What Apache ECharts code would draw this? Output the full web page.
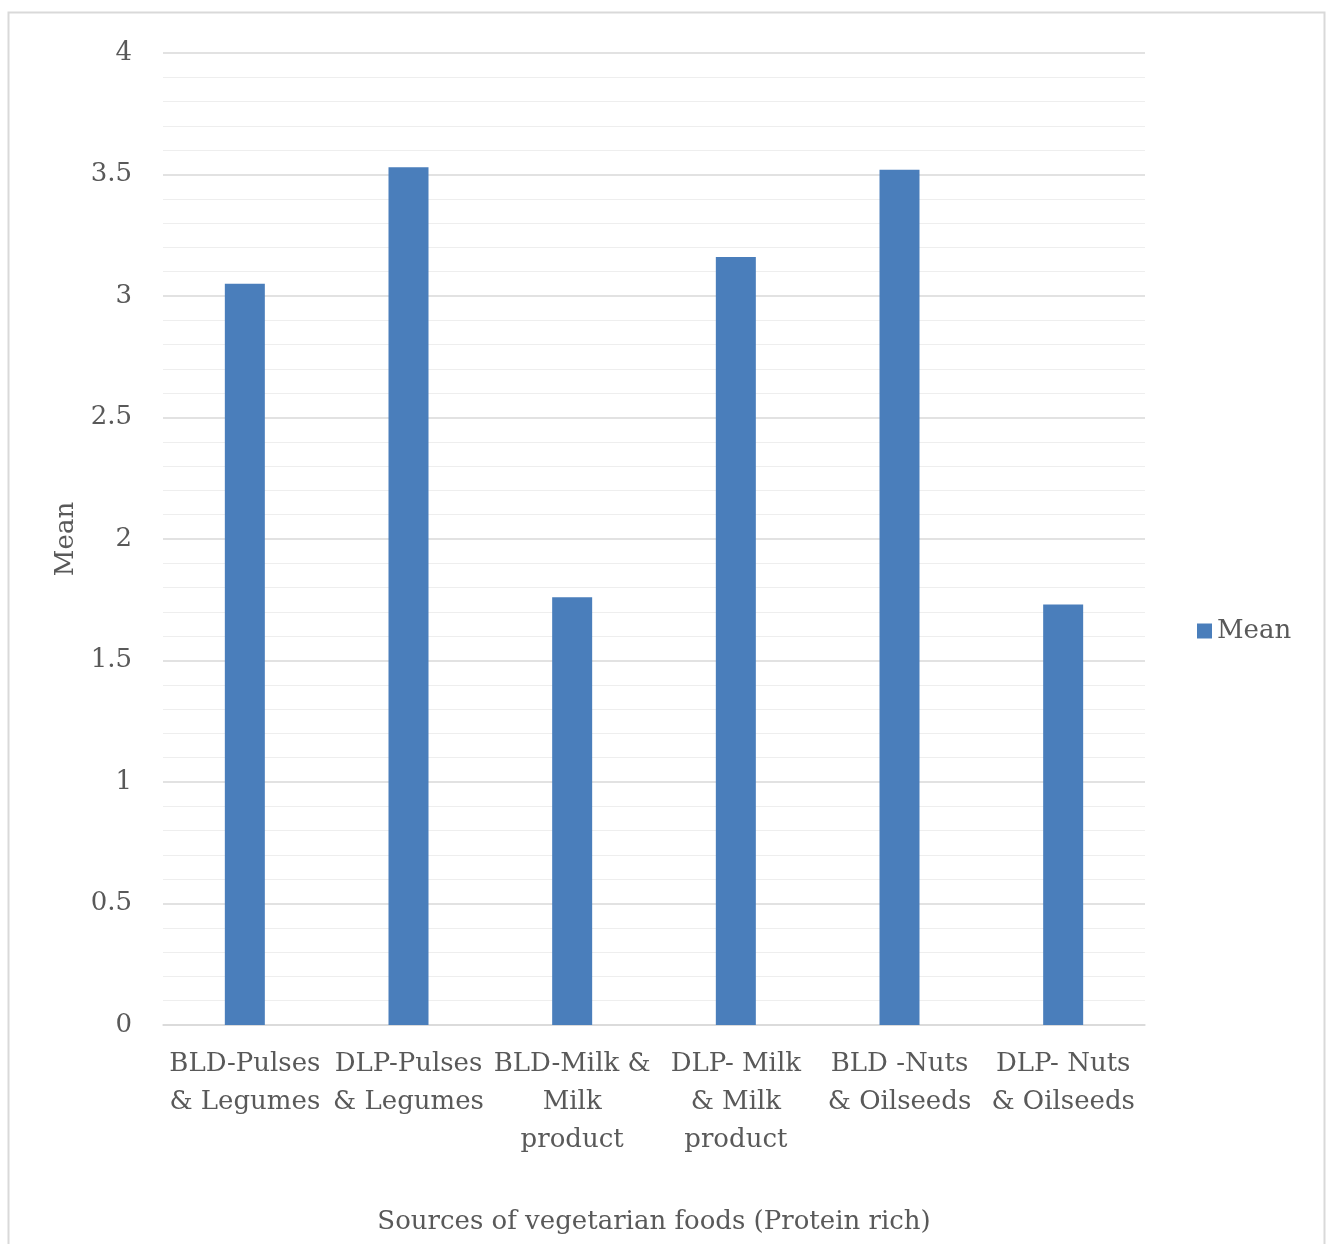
<!DOCTYPE html>
<html>
<head>
<meta charset="utf-8">
<script src="https://cdn.jsdelivr.net/npm/echarts@6/dist/echarts.min.js"></script>
<style>
html,body{margin:0;padding:0;background:#fff;}
#chart{width:1327px;height:1244px;}
</style>
</head>
<body>
<div id="chart"></div>
<script>
var categories = [
  "BLD-Pulses\n& Legumes",
  "DLP-Pulses\n& Legumes",
  "BLD-Milk &\nMilk\nproduct",
  "DLP- Milk\n& Milk\nproduct",
  "BLD -Nuts\n& Oilseeds",
  "DLP- Nuts\n& Oilseeds"
];
var meanValues = [3.05, 3.53, 1.76, 3.16, 3.52, 1.73];
var seriesName = "Mean";
var xAxisTitle = "Sources of vegetarian foods (Protein rich)";
var yAxisTitle = "Mean";

var FONT = "'DejaVu Serif',serif";
var TXT = '#595959';
var chart = echarts.init(document.getElementById('chart'));
chart.setOption({
  animation: false,
  backgroundColor: '#fff',
  graphic: [{
    type: 'rect', silent: true, z: -10,
    shape: {x: 8.5, y: 12.5, width: 1316, height: 1280},
    style: {fill: 'none', stroke: '#d9d9d9', lineWidth: 2}
  }],
  grid: {left: 163, right: 182, top: 53, bottom: 219, containLabel: false},
  legend: {
    data: [seriesName],
    orient: 'vertical',
    left: 1192, top: 613,
    itemWidth: 15, itemHeight: 15, itemGap: 6,
    icon: 'rect',
    textStyle: {fontFamily: FONT, fontSize: 26, color: TXT}
  },
  xAxis: {
    type: 'category',
    data: categories,
    name: xAxisTitle,
    nameLocation: 'middle',
    nameGap: 184,
    nameTextStyle: {fontFamily: FONT, fontSize: 26, color: TXT},
    axisLine: {show: true, lineStyle: {color: '#d9d9d9', width: 1.5}},
    axisTick: {show: false},
    axisLabel: {
      interval: 0, margin: 20, lineHeight: 38,
      fontFamily: FONT, fontSize: 26, color: TXT
    }
  },
  yAxis: {
    type: 'value',
    min: 0, max: 4, interval: 0.5,
    name: yAxisTitle,
    nameLocation: 'middle',
    nameGap: 84,
    nameRotate: 90,
    nameTextStyle: {fontFamily: FONT, fontSize: 26, color: TXT},
    axisLine: {show: false},
    axisTick: {show: false},
    axisLabel: {margin: 31, fontFamily: FONT, fontSize: 26, color: TXT},
    splitLine: {show: true, lineStyle: {color: '#d9d9d9', width: 1.5}},
    minorTick: {show: false, splitNumber: 5},
    minorSplitLine: {show: true, lineStyle: {color: '#eeeeee', width: 1}}
  },
  series: [{
    name: seriesName,
    type: 'bar',
    data: meanValues,
    barWidth: 40,
    itemStyle: {color: '#4a7ebb'}
  }]
});
</script>
</body>
</html>
